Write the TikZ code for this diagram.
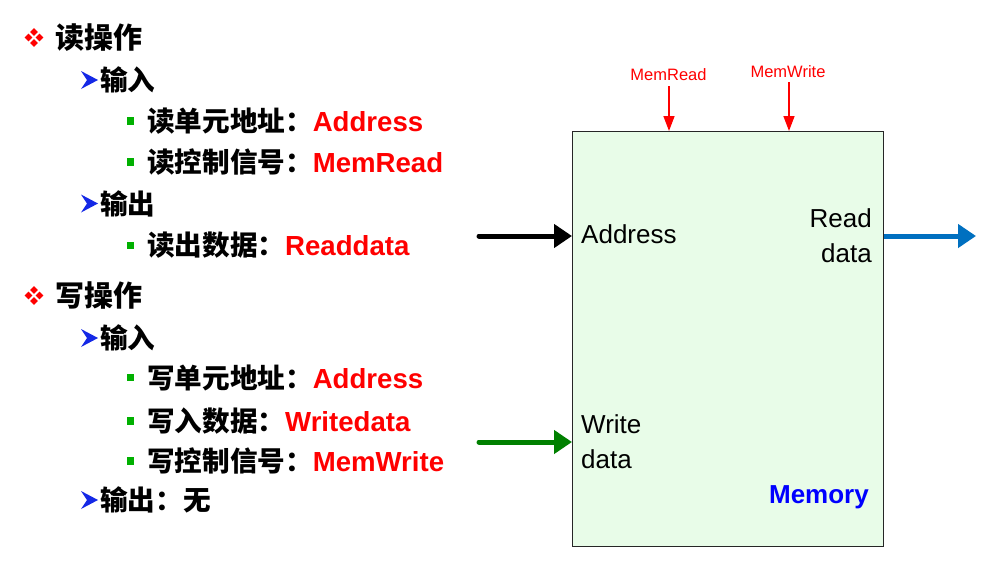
\documentclass[tikz,border=0pt]{standalone}
\usepackage{fontspec}
\setmainfont{Liberation Sans}
\newfontfamily\cjk{Noto Sans CJK SC}
\usetikzlibrary{arrows.meta}
\definecolor{boxfill}{RGB}{232,252,232}
\definecolor{arrblue}{RGB}{0,112,192}
\definecolor{arrgreen}{RGB}{0,128,0}
\definecolor{bulgreen}{RGB}{0,176,0}
\definecolor{bulblue}{RGB}{20,40,230}
\definecolor{membl}{RGB}{0,0,255}
\newcommand\kw[1]{{\rmfamily\bfseries\color{red}#1}}
\begin{document}
\begin{tikzpicture}[x=1pt,y=-1pt,
  lvA/.style={anchor=west,inner sep=0pt,font=\cjk\bfseries\fontsize{29}{34}\selectfont},
  lvB/.style={anchor=west,inner sep=0pt,font=\cjk\bfseries\fontsize{27.6}{32}\selectfont},
  boxtxt/.style={inner sep=0pt,font=\fontsize{26}{35}\selectfont,text=black},
  ctl/.style={inner sep=0pt,font=\fontsize{16.5}{20}\selectfont,text=red},
  bigarrow/.style={line width=5pt,line cap=round,-{Triangle[length=18pt,width=23pt]}},
  ctlarrow/.style={red,line width=1.5pt,-{Triangle[length=15pt,width=11pt]}},
  diam4/.pic={
    \foreach \dx/\dy in {0/-5.5,0/5.5,-5.5/0,5.5/0}
      \fill[red] (\dx-3.8,\dy) -- (\dx,\dy-3.8) -- (\dx+3.8,\dy) -- (\dx,\dy+3.8) -- cycle;
  },
  bluehead/.pic={
    \fill[bulblue] (-8,-9) -- (9,0) -- (-8,9) -- (-2,0) -- cycle;
  },
  greensq/.pic={
    \fill[bulgreen] (-3.6,-3.6) rectangle (3.6,3.6);
  }
]
\useasboundingbox (0,0) rectangle (1001,563);
\fill[white] (0,0) rectangle (1001,563);

% bullets
\pic at (34,37.5) {diam4};
\pic at (34,295.5) {diam4};
\foreach \y in {80,203.5,338,500} \pic at (89,\y) {bluehead};
\foreach \y in {121,162,245.5,377.5,421,461} \pic at (130.5,\y) {greensq};

% text list
\node[lvA] (t1) at (55,37.5) {读操作};
\node[lvB] (t2) at (100,80) {输入};
\node[lvB] (t3) at (147,121) {读单元地址：\kw{Address}};
\node[lvB] (t4) at (147,162) {读控制信号：\kw{MemRead}};
\node[lvB] (t5) at (100,203.5) {输出};
\node[lvB] (t6) at (147,245.5) {读出数据：\kw{Readdata}};
\node[lvA] (t7) at (55,295.5) {写操作};
\node[lvB] (t8) at (100,338) {输入};
\node[lvB] (t9) at (147,377.5) {写单元地址：\kw{Address}};
\node[lvB] (t10) at (147,421) {写入数据：\kw{Writedata}};
\node[lvB] (t11) at (147,461) {写控制信号：\kw{MemWrite}};
\node[lvB] (t12) at (100,500) {输出：无};

% memory box
\node[draw=black!85,line width=1.3pt,fill=boxfill,anchor=north west,
      minimum width=311pt,minimum height=415pt,inner sep=0pt] (mem) at (572,131) {};

\node[boxtxt,anchor=base west] (addr) at (581,243) {Address};
\node[boxtxt,anchor=north east,align=right] (rd) at (872,208) {Read\\data};
\node[boxtxt,anchor=north west,align=left] (wd) at (581,414) {Write\\data};
\node[inner sep=0pt,anchor=base east,font=\fontsize{26}{30}\selectfont\bfseries,text=membl] (memlbl) at (869,503) {Memory};

% control signals
\node[ctl,anchor=base] (mrl) at (668.5,80) {MemRead};
\node[ctl,anchor=base] (mwl) at (788,77) {MemWrite};
\coordinate (mrs) at (669,86);
\coordinate (mws) at (789,82);
\draw[ctlarrow] (mrs) -- (mrs |- mem.north);
\draw[ctlarrow] (mws) -- (mws |- mem.north);

% data arrows
\coordinate (ain) at (479,236);
\coordinate (win) at (479,442);
\coordinate (rout) at (976,236);
\draw[bigarrow,black] (ain) -- (ain -| mem.west);
\draw[bigarrow,arrgreen] (win) -- (win -| mem.west);
\draw[bigarrow,arrblue,line cap=butt] (rout -| mem.east) -- (rout);
\end{tikzpicture}
\end{document}
